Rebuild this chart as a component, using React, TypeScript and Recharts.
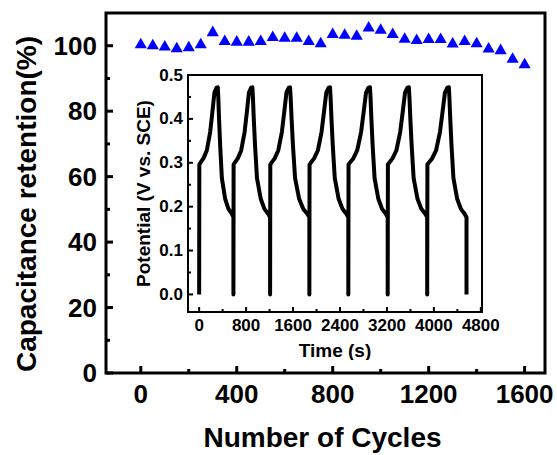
import { ScatterChart, Scatter, LineChart, Line, XAxis, YAxis, ZAxis, ReferenceArea, Label } from 'recharts'

// main plot: capacitance retention vs cycles
const cycles = [0, 50, 100, 150, 200, 250, 300, 350, 400, 450, 500, 550, 600, 650, 700, 750, 800,
  850, 900, 950, 1000, 1050, 1100, 1150, 1200, 1250, 1300, 1350, 1400, 1450, 1500, 1550, 1600]
const retention = [100.3, 100, 99.6, 99.1, 99.4, 100.3, 104, 101.3, 101.1, 101.1, 101.3, 102.5, 102.3,
  102.3, 101.3, 100.6, 103.4, 103.2, 102.9, 105.4, 104.7, 103.4, 102, 101.6, 101.9, 101.9, 100.5,
  101.3, 100.6, 99, 98.5, 95.9, 94.2]
const cycleTicks = [0, 200, 400, 600, 800, 1000, 1200, 1400, 1600]
const retentionTicks = [0, 10, 20, 30, 40, 50, 60, 70, 80, 90, 100]

// inset: charge/discharge curves
// start of charge, top of charge, end of discharge (s) for each cycle
const chargeStart = [0, 584, 1209, 1878, 2542, 3213, 3886]
const chargePeak = [318, 907, 1549, 2230, 2911, 3574, 4255]
const dischargeEnd = [584, 1209, 1878, 2542, 3213, 3886, 4556]
// shape of each phase (fraction of phase duration, potential in V)
const chargeFrac = [0, 0.01, 0.1, 0.23, 0.41, 0.59, 0.71, 0.82, 0.93, 1]
const chargeV = [0, 0.296, 0.302, 0.31, 0.328, 0.37, 0.416, 0.46, 0.471, 0.472]
const dischargeFrac = [0.03, 0.08, 0.15, 0.26, 0.47, 0.68, 0.89, 1, 1]
const dischargeV = [0.45, 0.4, 0.34, 0.265, 0.218, 0.195, 0.184, 0.176, 0]
const timeTicks = [0, 400, 800, 1200, 1600, 2000, 2400, 2800, 3200, 3600, 4000, 4400, 4800]
const potentialTicks = [0, 0.05, 0.1, 0.15, 0.2, 0.25, 0.3, 0.35, 0.4, 0.45, 0.5]

const mainData = cycles.map((c, i) => ({ cycle: c, retention: retention[i] }))

const insetData: { t: number; v: number }[] = []
chargeStart.forEach((s, i) => {
  const p = chargePeak[i]
  const e = dischargeEnd[i]
  chargeFrac.forEach((f, j) => insetData.push({ t: s + f * (p - s), v: chargeV[j] }))
  dischargeFrac.forEach((f, j) => insetData.push({ t: p + f * (e - p), v: dischargeV[j] }))
})

const FONT = 'Liberation Sans, Arial, sans-serif'

const MainYTick = ({ x, y, payload }: any) => {
  const ax = x + 9
  const major = payload.value % 20 === 0
  return (
    <g>
      <line x1={ax} x2={ax + (major ? 7 : 4)} y1={y} y2={y} stroke="#000" strokeWidth={3} />
      {major && (
        <text x={x} y={y} textAnchor="end" dominantBaseline="central" fontSize={26} fontWeight="bold" fontFamily={FONT} fill="#000">
          {payload.value}
        </text>
      )}
    </g>
  )
}

const MainXTick = ({ x, y, payload }: any) => {
  const ay = y - 8
  const major = payload.value % 400 === 0
  return (
    <g>
      <line x1={x} x2={x} y1={ay} y2={ay - (major ? 7 : 4)} stroke="#000" strokeWidth={3} />
      {major && (
        <text x={x} y={ay + 21} textAnchor="middle" dominantBaseline="central" fontSize={26} fontWeight="bold" fontFamily={FONT} fill="#000">
          {payload.value}
        </text>
      )}
    </g>
  )
}

const InsetYTick = ({ x, y, payload }: any) => {
  const ax = x + 5
  const major = Math.abs(Math.round(payload.value * 10) - payload.value * 10) < 1e-6
  return (
    <g>
      <line x1={ax} x2={ax + (major ? 5 : 3)} y1={y} y2={y} stroke="#000" strokeWidth={2} />
      {major && (
        <text x={x} y={y} textAnchor="end" dominantBaseline="central" fontSize={17} fontWeight="bold" fontFamily={FONT} fill="#000">
          {payload.value.toFixed(1)}
        </text>
      )}
    </g>
  )
}

const InsetXTick = ({ x, y, payload }: any) => {
  const ay = y - 5
  const major = payload.value % 800 === 0
  return (
    <g>
      <line x1={x} x2={x} y1={ay} y2={ay - (major ? 5 : 3)} stroke="#000" strokeWidth={2} />
      {major && (
        <text x={x} y={ay + 13} textAnchor="middle" dominantBaseline="central" fontSize={17} fontWeight="bold" fontFamily={FONT} fill="#000">
          {payload.value}
        </text>
      )}
    </g>
  )
}

export default function App() {
  return (
    <div style={{ position: 'absolute', left: 0, top: 0, width: 557, height: 455, background: '#fff' }}>
      <ScatterChart width={557} height={455} margin={{ top: 13, right: 12, bottom: 0, left: 0 }}>
        <XAxis
          type="number"
          dataKey="cycle"
          domain={[-145, 1685]}
          ticks={cycleTicks}
          interval={0}
          height={82}
          tickSize={0}
          tickMargin={8}
          axisLine={false}
          tickLine={false}
          tick={<MainXTick />}
        >
          <Label
            content={({ viewBox }: any) => (
              <text x={viewBox.x + viewBox.width / 2 - 3} y={viewBox.y + 64} textAnchor="middle" dominantBaseline="central" fontSize={28} fontWeight="bold" fontFamily={FONT} fill="#000">
                Number of Cycles
              </text>
            )}
          />
        </XAxis>
        <YAxis
          type="number"
          dataKey="retention"
          domain={[0, 110]}
          ticks={retentionTicks}
          interval={0}
          width={106}
          tickSize={0}
          tickMargin={9}
          axisLine={false}
          tickLine={false}
          tick={<MainYTick />}
        >
          <Label
            content={({ viewBox }: any) => {
              const cx = viewBox.x + 26
              const cy = viewBox.y + viewBox.height / 2 + 11
              return (
                <text x={cx} y={cy} transform={`rotate(-90 ${cx} ${cy})`} textAnchor="middle" dominantBaseline="central" fontSize={28} fontWeight="bold" fontFamily={FONT} fill="#000">
                  Capacitance retention(%)
                </text>
              )
            }}
          />
        </YAxis>
        <ZAxis range={[85, 85]} />
        <ReferenceArea x1={-145} x2={1685} y1={0} y2={110} fill="none" stroke="#000" strokeWidth={3} ifOverflow="visible" />
        <Scatter data={mainData} shape="triangle" fill="#0000ff" isAnimationActive={false} />
      </ScatterChart>

      <div style={{ position: 'absolute', left: 120, top: 60 }}>
        <LineChart width={380} height={300} data={insetData} margin={{ top: 15, right: 18, bottom: 0, left: 0 }}>
          <XAxis
            type="number"
            dataKey="t"
            domain={[-190, 4820]}
            ticks={timeTicks}
            interval={0}
            height={48}
            tickSize={0}
            tickMargin={5}
            axisLine={false}
            tickLine={false}
            tick={<InsetXTick />}
          >
            <Label
              content={({ viewBox }: any) => (
                <text x={viewBox.x + viewBox.width / 2} y={viewBox.y + 38} textAnchor="middle" dominantBaseline="central" fontSize={19} fontWeight="bold" fontFamily={FONT} fill="#000">
                  Time (s)
                </text>
              )}
            />
          </XAxis>
          <YAxis
            type="number"
            domain={[-0.04, 0.5]}
            ticks={potentialTicks}
            interval={0}
            width={68}
            tickSize={0}
            tickMargin={5}
            axisLine={false}
            tickLine={false}
            tick={<InsetYTick />}
          >
            <Label
              content={({ viewBox }: any) => {
                const cx = viewBox.x + 23
                const cy = viewBox.y + viewBox.height / 2
                return (
                  <text x={cx} y={cy} transform={`rotate(-90 ${cx} ${cy})`} textAnchor="middle" dominantBaseline="central" fontSize={19} fontWeight="bold" fontFamily={FONT} fill="#000">
                    Potential (V vs. SCE)
                  </text>
                )
              }}
            />
          </YAxis>
          <ReferenceArea x1={-190} x2={4820} y1={-0.04} y2={0.5} fill="none" stroke="#000" strokeWidth={2} ifOverflow="visible" />
          <Line type="linear" dataKey="v" stroke="#000" strokeWidth={4} dot={false} isAnimationActive={false} strokeLinejoin="round" />
        </LineChart>
      </div>
    </div>
  )
}
